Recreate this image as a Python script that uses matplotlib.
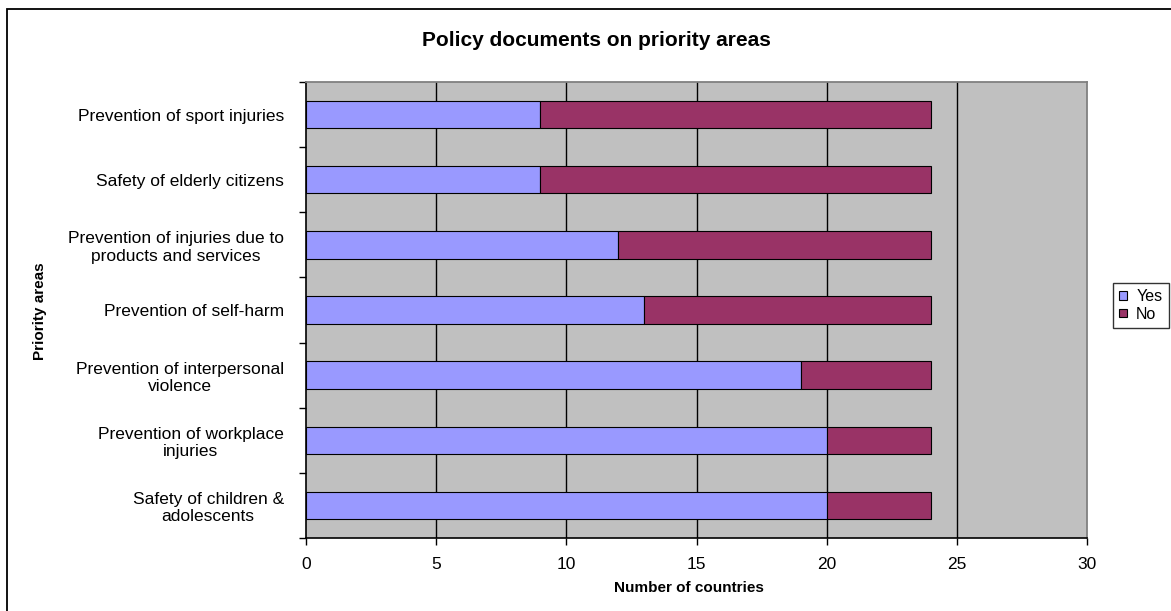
import numpy as np
import matplotlib
matplotlib.use("Agg")
import matplotlib.pyplot as plt
from matplotlib.patches import Rectangle

# data, bottom to top
categories = [
    "Safety of children &\nadolescents",
    "Prevention of workplace\ninjuries",
    "Prevention of interpersonal\nviolence",
    "Prevention of self-harm",
    "Prevention of injuries due to\nproducts and services",
    "Safety of elderly citizens",
    "Prevention of sport injuries",
]
yes_counts = [20, 20, 19, 13, 12, 9, 9]
no_counts = [4, 4, 5, 11, 12, 15, 15]
x_ticks = [0, 5, 10, 15, 20, 25, 30]

plt.rcParams['font.family'] = ['Liberation Sans', 'DejaVu Sans']

W, H = 1171, 611
fig = plt.figure(figsize=(W / 100, H / 100), dpi=100)

# outer chart border (runs off the right/bottom edge in the reference)
fig.patches.append(Rectangle((7 / W, -0.05), 1.1, 1 - 9 / H + 0.05,
                             transform=fig.transFigure, fill=False,
                             edgecolor='black', linewidth=1.3))

left, right, top, bottom = 306, 1087, 82, 538
ax = fig.add_axes([left / W, 1 - bottom / H, (right - left) / W, (bottom - top) / H])
ax.set_facecolor('#C0C0C0')

y = np.arange(len(categories))
bh = 0.42
ax.barh(y, yes_counts, height=bh, color='#9999FF', edgecolor='black', linewidth=0.8, label='Yes', zorder=3)
ax.barh(y, no_counts, left=yes_counts, height=bh, color='#993366', edgecolor='black', linewidth=0.8, label='No', zorder=3)

ax.set_xlim(0, 30)
ax.set_ylim(-0.5, len(categories) - 0.5)
ax.set_xticks(x_ticks)
ax.set_xticklabels([str(t) for t in x_ticks], fontsize=12.5)
for t in x_ticks[1:-1]:
    ax.axvline(t, color='black', linewidth=1, zorder=1)

# category boundaries as major ticks, labels at centres
ax.set_yticks(np.arange(-0.5, len(categories), 1.0))
ax.set_yticklabels([])
ax.set_yticks(y, minor=True)
ax.set_yticklabels(categories, minor=True, fontsize=12.5, multialignment='center', linespacing=1.2)
ax.tick_params(axis='y', which='minor', length=0, pad=16)
ax.tick_params(axis='y', which='major', length=5, direction='out', width=1)
ax.tick_params(axis='x', length=5, direction='out', width=1, pad=9)

for s in ['top', 'right']:
    ax.spines[s].set_color('#808080')
    ax.spines[s].set_linewidth(1.3)
for s in ['left', 'bottom']:
    ax.spines[s].set_color('black')
    ax.spines[s].set_linewidth(1.2)

fig.text(596 / W, 1 - 41 / H, "Policy documents on priority areas", ha='center', va='center',
         fontsize=15, fontweight='bold')
fig.text(689 / W, 1 - 588 / H, "Number of countries", ha='center', va='center',
         fontsize=11, fontweight='bold')
fig.text(40 / W, 1 - 311 / H, "Priority areas", ha='center', va='center', rotation=90,
         fontsize=11, fontweight='bold')

leg = fig.legend(loc='upper left', bbox_to_anchor=(1113 / W, 1 - 283 / H), fontsize=11.5,
                 frameon=True, fancybox=False, edgecolor='black', handlelength=0.45,
                 handleheight=0.45, handletextpad=0.6, borderpad=0.4, labelspacing=0.15,
                 borderaxespad=0)
leg.get_frame().set_linewidth(1)

fig.savefig("out.png", dpi=100)
